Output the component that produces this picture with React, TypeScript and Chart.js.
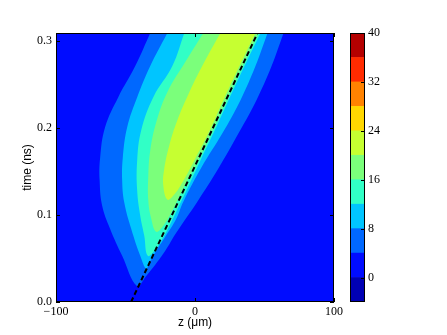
import React, { useEffect, useRef } from "react";
import { Chart, registerables } from "chart.js";

Chart.register(...registerables);

type Pt = [number, number];

// Axis ranges and ticks
const zMin = -100;
const zMax = 100;
const tMin = 0;
const tMax = 0.309;
const zTickValues = [-100, 0, 100];
const tTickValues = [0, 0.1, 0.2, 0.3];

// Colour levels (contourf levels) and jet colours for each band
const levelEdges = [-4, 0, 4, 8, 12, 16, 20, 24, 28, 32, 36, 40];
const levelColors = [
  "rgb(0,0,180)",
  "rgb(0,12,255)",
  "rgb(0,104,255)",
  "rgb(0,197,255)",
  "rgb(49,255,198)",
  "rgb(123,255,123)",
  "rgb(198,255,49)",
  "rgb(255,215,0)",
  "rgb(255,130,0)",
  "rgb(255,43,0)",
  "rgb(180,0,0)",
];
const colorbarTickValues = [0, 8, 16, 24, 32, 40];

// Contour boundaries: [z (um), time (ns)]
const contour4: Pt[] = [
  [-32.2, 0.309], [-43.0, 0.271], [-55.3, 0.235], [-64.7, 0.2006], [-68.3, 0.1649],
  [-68.6, 0.1395], [-66.8, 0.1107], [-61.1, 0.0842], [-52.4, 0.053], [-41.8, 0.0184],
  [-35.1, 0.03], [-28.6, 0.0427], [-21.4, 0.0588], [-13.5, 0.0796], [1.7, 0.1153],
  [16.8, 0.1533], [31.3, 0.1937], [44.2, 0.2318], [55.1, 0.271], [63.7, 0.309],
];
const contour8: Pt[] = [
  [-19.9, 0.309], [-32.2, 0.271], [-41.6, 0.2352], [-48.8, 0.2006], [-52.0, 0.1649],
  [-52.4, 0.1395], [-51.0, 0.1153], [-45.9, 0.0842], [-39.4, 0.053], [-35.1, 0.038],
  [-32.9, 0.045], [-27.9, 0.0588], [-21.4, 0.0749], [-13.5, 0.0957], [-8.4, 0.1153],
  [4.6, 0.1545], [19.7, 0.1937], [32.7, 0.2318], [43.5, 0.271], [52.2, 0.309],
];
const contour12: Pt[] = [
  [-7.7, 0.309], [-16.3, 0.271], [-30.0, 0.2352], [-38.7, 0.1972], [-41.6, 0.1626],
  [-41.6, 0.128], [-39.4, 0.0992], [-36.5, 0.0761], [-34.0, 0.053],
  [-28.6, 0.06], [-21.4, 0.0784], [-13.5, 0.1038], [-4.8, 0.1326], [3.9, 0.1626],
  [13.2, 0.1937], [24.1, 0.2318], [35.6, 0.271], [47.1, 0.309],
];
const contour16: Pt[] = [
  [6.0, 0.309], [-7.0, 0.2756], [-19.9, 0.241], [-27.9, 0.2064], [-32.2, 0.1741],
  [-33.6, 0.1453], [-33.6, 0.1165], [-31.5, 0.0957], [-27.9, 0.0807],
  [-22.8, 0.0876], [-16.3, 0.1049], [-7.7, 0.1326], [2.4, 0.1626], [11.8, 0.1937],
  [22.6, 0.2318], [34.2, 0.271], [45.7, 0.309],
];
const contour20: Pt[] = [
  [18.3, 0.309], [6.7, 0.2756], [-4.1, 0.241], [-12.7, 0.2087], [-18.5, 0.1799],
  [-22.1, 0.1533], [-22.8, 0.1337], [-19.9, 0.1176],
  [-14.9, 0.1234], [-9.1, 0.1372], [-0.5, 0.1626], [9.6, 0.1937], [20.4, 0.2318],
  [32.0, 0.271], [43.5, 0.309],
];
const contourLevels = [20, 16, 12, 8, 4];
const contourShapes = [contour20, contour16, contour12, contour8, contour4];

// Dashed reference line
const frontLine: Pt[] = [[-46, 0], [45, 0.309]];

const serif = "'Liberation Serif', 'Times New Roman', serif";
const sans = "'Liberation Sans', Arial, sans-serif";

const toXY = (pts: Pt[]) => pts.map(([x, y]) => ({ x, y }));

const bgPlugin = {
  id: "plotBackground",
  beforeDraw(chart: any) {
    const { ctx, chartArea: a } = chart;
    ctx.save();
    ctx.fillStyle = levelColors[1];
    ctx.fillRect(a.left, a.top, a.right - a.left, a.bottom - a.top);
    ctx.restore();
  },
};

const framePlugin = {
  id: "frameTicks",
  afterDraw(chart: any) {
    const { ctx, chartArea: a, scales } = chart;
    const xs = scales.x;
    const ys = scales.y;
    ctx.save();
    ctx.strokeStyle = "#000";
    ctx.lineWidth = 1;
    ctx.beginPath();
    for (const v of zTickValues) {
      const px = Math.round(xs.getPixelForValue(v)) + 0.5;
      ctx.moveTo(px, a.bottom);
      ctx.lineTo(px, a.bottom - 4);
      ctx.moveTo(px, a.top);
      ctx.lineTo(px, a.top + 4);
    }
    for (const v of tTickValues) {
      const py = Math.round(ys.getPixelForValue(v)) + 0.5;
      ctx.moveTo(a.left, py);
      ctx.lineTo(a.left + 4, py);
      ctx.moveTo(a.right, py);
      ctx.lineTo(a.right - 4, py);
    }
    ctx.stroke();
    ctx.strokeRect(a.left + 0.5, a.top + 0.5, a.right - a.left - 1, a.bottom - a.top - 1);
    ctx.restore();
  },
};

const cbFramePlugin = {
  id: "cbFrame",
  afterDraw(chart: any) {
    const { ctx, chartArea: a, scales } = chart;
    const ys = scales.y;
    ctx.save();
    ctx.strokeStyle = "#000";
    ctx.lineWidth = 1;
    ctx.beginPath();
    for (const v of colorbarTickValues) {
      const py = Math.round(ys.getPixelForValue(v)) + 0.5;
      ctx.moveTo(a.right, py);
      ctx.lineTo(a.right - 4, py);
    }
    ctx.stroke();
    ctx.strokeRect(a.left + 0.5, a.top + 0.5, a.right - a.left - 1, a.bottom - a.top - 1);
    ctx.restore();
  },
};

export default function App() {
  const mainRef = useRef<HTMLCanvasElement | null>(null);
  const cbRef = useRef<HTMLCanvasElement | null>(null);

  useEffect(() => {
    if (!mainRef.current || !cbRef.current) return;

    const contourDatasets = contourShapes.map((pts, i) => {
      const color = levelColors[levelEdges.indexOf(contourLevels[i])];
      return {
        label: `level ${contourLevels[i]}`,
        data: toXY(pts),
        showLine: true,
        fill: "shape",
        backgroundColor: color,
        borderColor: color,
        borderWidth: 0,
        pointRadius: 0,
        tension: 0.4,
        order: i + 1,
      };
    });

    const main = new Chart(mainRef.current, {
      type: "scatter",
      data: {
        datasets: [
          {
            label: "front",
            data: toXY(frontLine),
            showLine: true,
            fill: false,
            borderColor: "#000",
            borderWidth: 2,
            borderDash: [5, 3],
            pointRadius: 0,
            order: 0,
          } as any,
          ...(contourDatasets as any[]),
        ],
      },
      options: {
        responsive: false,
        animation: false,
        devicePixelRatio: 1,
        events: [],
        layout: { padding: { left: 0, top: 33, right: 113, bottom: 0 } },
        plugins: { legend: { display: false }, tooltip: { enabled: false } },
        scales: {
          x: {
            type: "linear",
            min: zMin,
            max: zMax,
            afterBuildTicks: (s: any) => {
              s.ticks = zTickValues.map((v) => ({ value: v }));
            },
            afterFit: (s: any) => {
              s.height = 33;
            },
            grid: { display: false, drawTicks: false },
            border: { display: false },
            ticks: {
              padding: 3,
              maxRotation: 0,
              color: "#000",
              font: { family: serif, size: 12 },
              callback: (v: any) => (Number(v) < 0 ? "\u2212" + Math.abs(Number(v)) : String(v)),
            },
            title: {
              display: true,
              text: "z (\u03bcm)",
              color: "#000",
              font: { family: sans, size: 12 },
              padding: { top: 0, bottom: 5 },
            },
          },
          y: {
            type: "linear",
            min: tMin,
            max: tMax,
            afterBuildTicks: (s: any) => {
              s.ticks = tTickValues.map((v) => ({ value: v }));
            },
            afterFit: (s: any) => {
              s.width = 56;
            },
            grid: { display: false, drawTicks: false },
            border: { display: false },
            ticks: {
              padding: 4,
              color: "#000",
              font: { family: serif, size: 12 },
              callback: (v: any) => Number(v).toFixed(1),
            },
            title: {
              display: true,
              text: "time (ns)",
              color: "#000",
              font: { family: sans, size: 12 },
              padding: { top: 20, bottom: 0 },
            },
          },
        },
      },
      plugins: [bgPlugin, framePlugin],
    } as any);

    const cb = new Chart(cbRef.current, {
      type: "bar",
      data: {
        labels: [""],
        datasets: levelColors.map((c, i) => ({
          label: `${levelEdges[i]}-${levelEdges[i + 1]}`,
          data: [[levelEdges[i], levelEdges[i + 1]]],
          backgroundColor: c,
          borderWidth: 0,
          barPercentage: 1,
          categoryPercentage: 1,
          grouped: false,
        })),
      },
      options: {
        responsive: false,
        animation: false,
        devicePixelRatio: 1,
        events: [],
        layout: { padding: { left: 350, top: 33, right: 0, bottom: 33 } },
        plugins: { legend: { display: false }, tooltip: { enabled: false } },
        scales: {
          x: { display: false },
          y: {
            position: "right",
            min: levelEdges[0],
            max: levelEdges[levelEdges.length - 1],
            afterBuildTicks: (s: any) => {
              s.ticks = colorbarTickValues.map((v) => ({ value: v }));
            },
            afterFit: (s: any) => {
              s.width = 82;
            },
            grid: { display: false, drawTicks: false },
            border: { display: false },
            ticks: {
              padding: 3,
              color: "#000",
              font: { family: serif, size: 12 },
            },
          },
        },
      },
      plugins: [cbFramePlugin],
    } as any);

    return () => {
      main.destroy();
      cb.destroy();
    };
  }, []);

  return (
    <div
      style={{
        position: "fixed",
        left: 0,
        top: 0,
        width: 447,
        height: 335,
        background: "#fff",
        overflow: "hidden",
      }}
    >
      <canvas
        ref={mainRef}
        width={447}
        height={335}
        style={{ position: "absolute", left: 0, top: 0, width: 447, height: 335 }}
      />
      <canvas
        ref={cbRef}
        width={447}
        height={335}
        style={{ position: "absolute", left: 0, top: 0, width: 447, height: 335 }}
      />
    </div>
  );
}
